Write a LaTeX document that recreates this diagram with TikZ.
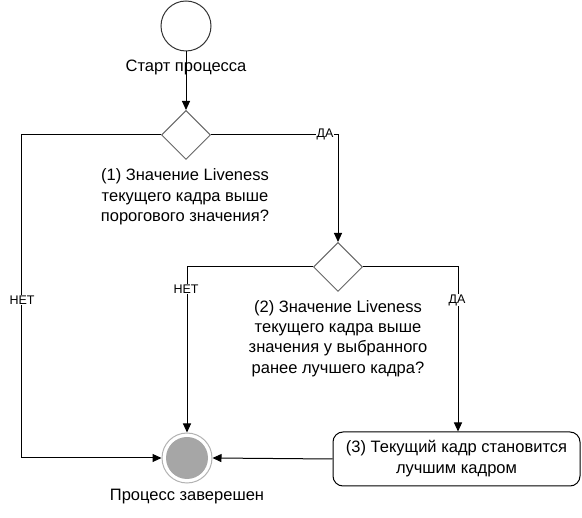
\documentclass[tikz,border=0pt]{standalone}
\usepackage{fontspec}
\setmainfont{Liberation Sans}
\usetikzlibrary{arrows.meta,shapes.geometric}
\begin{document}
\begin{tikzpicture}[x=1pt,y=-1pt,
  conn/.style={draw=black,line width=1pt},
  arr/.style={conn,-{Triangle[length=9pt,width=8pt]}},
  decision/.style={diamond,draw=black!60,line width=1pt,minimum width=49pt,minimum height=49pt,inner sep=0pt},
  txt/.style={align=center,font=\fontsize{16.5}{20.3}\selectfont,inner sep=0pt},
  lbl/.style={font=\fontsize{12.5}{14}\selectfont,fill=white,inner sep=0.5pt},
  actbox/.style={draw=black,line width=1pt,rounded corners=10pt,minimum width=247pt,minimum height=54pt,inner sep=0pt,align=center,font=\fontsize{16.5}{21}\selectfont}]
\useasboundingbox (0,0) rectangle (582,518);
% start
\node[circle,draw=black!80,line width=1pt,minimum size=50pt,inner sep=0pt] (start) at (186,26) {};
\node[txt] (startlbl) at (186,67) {Старт процесса};
% decisions
\node[decision] (d1) at (186,135) {};
\node[txt] (t1) at (185,197) {(1) Значение Liveness\\текущего кадра выше\\порогового значения?};
\node[decision] (d2) at (338,267) {};
\node[txt] (t2) at (338,338.5) {(2) Значение Liveness\\текущего кадра выше\\значения у выбранного\\ранее лучшего кадра?};
% box
\node[actbox] (b3) at (456.5,459) {(3) Текущий кадр становится\\лучшим кадром};
% end
\node[circle,draw=black!30,line width=1pt,minimum size=50pt,inner sep=0pt] (end) at (187,458) {};
\node[circle,fill=black!35,minimum size=42pt,inner sep=0pt] (endin) at (187,458) {};
\node[txt] (endlbl) at (187,497) {Процесс заверешен};
% corner coordinates
\coordinate (c1l) at (21,135);
\coordinate (c1lb) at (21,458);
\coordinate (c1r) at (338,135);
\coordinate (c2l) at (187,267);
\coordinate (c2r) at (458,267);
% connectors
\draw[arr] (start.south) -- (d1.north);
\draw[arr] (d1.west) -- (c1l) -- (c1lb) -- (end.west);
\draw[arr] (d1.east) -- (c1r) -- (d2.north);
\draw[arr] (d2.west) -- (c2l) -- (end.north);
\draw[arr] (d2.east) -- (c2r) -- (c2r |- b3.north);
\draw[arr] (b3.west) -- (end.east);
% labels
\node[lbl] (lda1) at (325,134) {ДА};
\node[lbl] (lnet1) at (22,300) {НЕТ};
\node[lbl] (lnet2) at (186,289) {НЕТ};
\node[lbl] (lda2) at (457,300) {ДА};
\end{tikzpicture}
\end{document}
